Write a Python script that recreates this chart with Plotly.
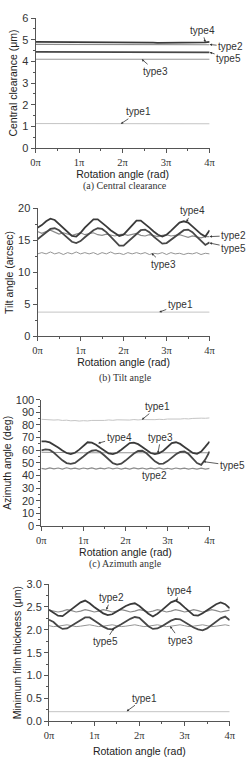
import plotly.graph_objects as go

# ---------------- data ----------------
X = [0.0, 0.1, 0.2, 0.3, 0.4, 0.5, 0.6, 0.7, 0.8, 0.9,
     1.0, 1.1, 1.2, 1.3, 1.4, 1.5, 1.6, 1.7, 1.8, 1.9,
     2.0, 2.1, 2.2, 2.3, 2.4, 2.5, 2.6, 2.7, 2.8, 2.9,
     3.0, 3.1, 3.2, 3.3, 3.4, 3.5, 3.6, 3.7, 3.8, 3.9, 4.0]
X_TICKS = [0, 1, 2, 3, 4]
X_TICK_TEXT = ["0π", "1π", "2π", "3π", "4π"]
SERIES = ["type1", "type2", "type3", "type4", "type5"]

# (a) Central clearance (um)
A_type1 = [1.13, 1.13, 1.13, 1.13, 1.12, 1.12, 1.12, 1.12, 1.12, 1.12,
           1.12, 1.12, 1.12, 1.12, 1.12, 1.12, 1.12, 1.12, 1.12, 1.12,
           1.12, 1.12, 1.12, 1.12, 1.12, 1.12, 1.12, 1.12, 1.12, 1.12,
           1.12, 1.12, 1.12, 1.12, 1.12, 1.12, 1.12, 1.12, 1.12, 1.12, 1.12]
A_type2 = [4.79, 4.79, 4.79, 4.79, 4.78, 4.78, 4.78, 4.78, 4.78, 4.78,
           4.78, 4.78, 4.78, 4.78, 4.78, 4.77, 4.77, 4.77, 4.77, 4.77,
           4.77, 4.77, 4.77, 4.77, 4.77, 4.77, 4.77, 4.77, 4.77, 4.77,
           4.77, 4.77, 4.77, 4.77, 4.77, 4.77, 4.77, 4.77, 4.77, 4.77, 4.77]
A_type3 = [4.10, 4.10, 4.10, 4.10, 4.10, 4.10, 4.10, 4.10, 4.10, 4.10,
           4.10, 4.10, 4.10, 4.10, 4.10, 4.10, 4.10, 4.10, 4.10, 4.10,
           4.10, 4.10, 4.10, 4.10, 4.10, 4.10, 4.10, 4.10, 4.10, 4.10,
           4.10, 4.10, 4.10, 4.10, 4.10, 4.10, 4.10, 4.10, 4.10, 4.10, 4.10]
A_type4 = [4.90, 4.90, 4.90, 4.89, 4.89, 4.89, 4.89, 4.89, 4.88, 4.88,
           4.88, 4.88, 4.88, 4.88, 4.88, 4.87, 4.87, 4.87, 4.87, 4.87,
           4.87, 4.87, 4.87, 4.87, 4.87, 4.87, 4.87, 4.87, 4.86, 4.86,
           4.86, 4.86, 4.86, 4.86, 4.86, 4.86, 4.86, 4.86, 4.87, 4.88, 4.90]
A_type5 = [4.44, 4.44, 4.44, 4.43, 4.43, 4.43, 4.43, 4.42, 4.42, 4.42,
           4.42, 4.41, 4.41, 4.41, 4.41, 4.41, 4.41, 4.41, 4.41, 4.41,
           4.41, 4.41, 4.41, 4.41, 4.41, 4.41, 4.41, 4.41, 4.41, 4.41,
           4.41, 4.42, 4.42, 4.42, 4.42, 4.42, 4.42, 4.42, 4.42, 4.42, 4.42]

# (b) Tilt angle (arcsec)
B_type1 = [3.8, 3.8, 3.8, 3.8, 3.8, 3.8, 3.8, 3.8, 3.8, 3.8,
           3.8, 3.8, 3.8, 3.8, 3.8, 3.8, 3.8, 3.8, 3.8, 3.8,
           3.8, 3.8, 3.8, 3.8, 3.8, 3.8, 3.8, 3.8, 3.8, 3.8,
           3.8, 3.8, 3.8, 3.8, 3.8, 3.8, 3.8, 3.8, 3.8, 3.8, 3.8]
B_type2 = [16.4, 16.1, 16.4, 16.6, 16.3, 16.0, 16.2, 16.0, 15.8, 16.0,
           16.2, 15.9, 16.1, 16.2, 15.9, 15.8, 16.0, 15.8, 15.7, 15.9,
           16.0, 15.8, 15.9, 16.1, 15.8, 15.7, 15.9, 15.7, 15.6, 15.8,
           15.9, 15.7, 15.8, 15.9, 15.7, 15.5, 15.7, 15.5, 15.4, 15.6, 15.6]
B_type3 = [12.9, 13.1, 12.9, 13.2, 12.9, 13.1, 12.8, 13.1, 12.9, 13.2,
           12.9, 13.1, 12.9, 13.1, 12.8, 13.1, 12.9, 13.2, 12.9, 13.0,
           12.8, 13.1, 12.9, 13.1, 12.9, 13.1, 12.8, 13.0, 12.9, 13.1,
           12.8, 13.1, 12.9, 13.0, 12.8, 13.0, 12.9, 13.1, 12.8, 13.0, 12.9]
B_type4 = [17.0, 17.4, 18.0, 18.4, 18.2, 17.6, 17.0, 16.3, 15.7, 15.6,
           16.2, 17.0, 17.7, 18.3, 18.3, 17.8, 17.2, 16.6, 16.1, 15.7,
           15.9, 16.6, 17.4, 18.1, 18.1, 17.6, 17.0, 16.4, 15.9, 15.6,
           15.9, 16.5, 17.2, 17.8, 18.0, 17.8, 17.2, 16.6, 16.0, 15.6, 16.6]
B_type5 = [15.2, 15.7, 16.3, 16.8, 16.9, 16.6, 16.0, 15.4, 14.8, 14.6,
           14.9, 15.5, 16.1, 16.6, 16.9, 16.8, 16.3, 15.6, 14.9, 14.2,
           14.2, 14.8, 15.5, 16.1, 16.6, 16.7, 16.3, 15.6, 15.0, 14.5,
           14.6, 15.1, 15.7, 16.2, 16.6, 16.7, 16.3, 15.6, 14.9, 14.3, 14.7]

# (c) Azimuth angle (deg)
C_type1 = [84.5, 84.2, 84.4, 83.9, 84.1, 83.6, 83.8, 83.3, 83.5, 83.1,
           83.4, 83.2, 83.6, 83.4, 83.8, 83.6, 84.0, 83.7, 84.1, 83.9,
           84.2, 83.9, 84.3, 84.0, 84.3, 84.1, 84.4, 84.2, 84.5, 84.3,
           84.7, 84.5, 84.9, 84.7, 85.0, 84.8, 85.2, 85.0, 85.4, 85.3, 85.6]
C_type2 = [45.6, 45.0, 46.0, 45.2, 45.9, 45.1, 46.1, 45.3, 45.8, 45.0,
           45.9, 45.2, 46.0, 45.1, 45.8, 45.3, 46.1, 45.2, 45.9, 45.0,
           45.8, 45.1, 46.0, 45.3, 45.9, 45.0, 45.8, 45.2, 46.0, 45.1,
           45.7, 45.0, 45.9, 45.2, 45.8, 45.0, 45.7, 45.1, 45.8, 45.0, 45.6]
C_type3 = [58.4, 58.3, 58.2, 58.2, 58.1, 58.1, 58.0, 58.0, 58.0, 58.0,
           58.0, 58.0, 58.0, 58.0, 58.0, 58.0, 58.0, 58.0, 58.0, 58.0,
           58.0, 58.0, 58.0, 58.0, 58.0, 58.0, 58.0, 58.0, 58.0, 58.0,
           58.0, 58.0, 58.0, 58.0, 58.0, 58.0, 58.0, 58.0, 58.0, 58.0, 58.0]
C_type4 = [67.0, 67.0, 66.2, 64.5, 62.2, 59.8, 57.8, 57.0, 58.0, 60.5,
           63.8, 66.3, 66.0, 64.4, 62.0, 59.5, 57.5, 57.0, 58.0, 60.4,
           63.2, 65.6, 66.0, 64.8, 62.6, 60.0, 57.8, 57.0, 57.6, 59.6,
           63.0, 65.6, 66.3, 65.0, 62.6, 60.0, 57.8, 57.2, 59.0, 62.8, 66.8]
C_type5 = [59.8, 60.6, 60.2, 58.0, 55.0, 52.0, 49.8, 49.2, 50.0, 52.2,
           55.0, 57.8, 59.6, 60.0, 58.6, 55.8, 52.6, 49.8, 48.6, 49.4,
           51.8, 54.6, 57.4, 59.4, 59.6, 57.6, 54.4, 51.2, 49.2, 49.4,
           51.4, 54.2, 56.8, 58.6, 59.0, 57.0, 53.4, 49.8, 48.4, 52.8, 59.0]

# (d) Minimum film thickness (um)
D_type1 = [0.21, 0.21, 0.21, 0.21, 0.21, 0.21, 0.21, 0.21, 0.21, 0.21,
           0.21, 0.21, 0.21, 0.21, 0.21, 0.21, 0.21, 0.21, 0.21, 0.21,
           0.21, 0.21, 0.21, 0.21, 0.21, 0.21, 0.21, 0.21, 0.21, 0.21,
           0.21, 0.21, 0.21, 0.21, 0.21, 0.21, 0.21, 0.21, 0.21, 0.21, 0.21]
D_type2 = [2.43, 2.41, 2.39, 2.41, 2.44, 2.42, 2.39, 2.41, 2.44, 2.42,
           2.39, 2.41, 2.44, 2.42, 2.39, 2.41, 2.44, 2.42, 2.39, 2.41,
           2.44, 2.42, 2.39, 2.41, 2.44, 2.42, 2.39, 2.41, 2.44, 2.42,
           2.39, 2.41, 2.44, 2.42, 2.39, 2.41, 2.44, 2.42, 2.39, 2.41, 2.43]
D_type3 = [2.09, 2.07, 2.08, 2.10, 2.11, 2.09, 2.07, 2.08, 2.10, 2.11,
           2.09, 2.07, 2.08, 2.10, 2.11, 2.09, 2.07, 2.08, 2.10, 2.11,
           2.09, 2.07, 2.08, 2.10, 2.11, 2.09, 2.07, 2.08, 2.10, 2.11,
           2.09, 2.07, 2.08, 2.10, 2.11, 2.09, 2.07, 2.08, 2.10, 2.11, 2.09]
D_type4 = [2.44, 2.38, 2.31, 2.30, 2.37, 2.45, 2.53, 2.60, 2.64, 2.58,
           2.50, 2.42, 2.36, 2.32, 2.34, 2.40, 2.46, 2.52, 2.56, 2.58,
           2.52, 2.43, 2.35, 2.29, 2.35, 2.43, 2.52, 2.60, 2.64, 2.58,
           2.49, 2.40, 2.32, 2.31, 2.36, 2.43, 2.50, 2.56, 2.60, 2.56, 2.47]
D_type5 = [2.22, 2.17, 2.08, 2.02, 2.03, 2.09, 2.16, 2.22, 2.27, 2.27,
           2.21, 2.14, 2.07, 2.02, 2.01, 2.06, 2.12, 2.18, 2.24, 2.28,
           2.26, 2.17, 2.08, 2.02, 2.03, 2.08, 2.14, 2.20, 2.24, 2.23,
           2.17, 2.11, 2.05, 2.01, 1.99, 2.03, 2.10, 2.18, 2.25, 2.29, 2.21]

PANELS = [
    dict(series=[A_type1, A_type2, A_type3, A_type4, A_type5],
         ytitle="Central clearance (μm)", yrange=[0, 6], dtick=1, minor=0.5,
         fmt="d", caption="(a) Central clearance"),
    dict(series=[B_type1, B_type2, B_type3, B_type4, B_type5],
         ytitle="Tilt angle (arcsec)", yrange=[0, 20], dtick=5, minor=2.5,
         fmt="d", caption="(b) Tilt angle"),
    dict(series=[C_type1, C_type2, C_type3, C_type4, C_type5],
         ytitle="Azimuth angle (deg)", yrange=[0, 100], dtick=10, minor=5,
         fmt="d", caption="(c) Azimuth angle"),
    dict(series=[D_type1, D_type2, D_type3, D_type4, D_type5],
         ytitle="Minimum film thickness (μm)", yrange=[0, 3.0], dtick=0.5, minor=0.25,
         fmt=".1f", caption=None),
]

# label annotations: (series, head_x, head_y, ax, ay)
LABELS = [
    [("type4", 3.9, 4.88, -3, -12), ("type2", 4.0, 4.78, 21, 2),
     ("type5", 4.0, 4.42, 19, 6), ("type3", 2.44, 4.10, 14, 12),
     ("type1", 1.96, 1.12, 18, -12)],
    [("type4", 3.46, 17.9, 6, -11), ("type2", 4.0, 15.6, 24, -1),
     ("type5", 4.0, 14.6, 24, 5), ("type3", 2.65, 13.0, 12, 11),
     ("type1", 2.83, 3.8, 21, -8)],
    [("type1", 2.39, 84.2, 16, -13), ("type4", 1.35, 65.5, 21, -6),
     ("type3", 2.77, 57.5, 3, -16), ("type5", 3.85, 51.0, 29, 4),
     ("type2", 2.36, 45.3, 14, 7)],
    [("type2", 1.27, 2.44, 5, -12), ("type4", 2.82, 2.62, 3, -11),
     ("type5", 1.44, 2.04, -9, 14), ("type3", 2.68, 2.08, 10, 14),
     ("type1", 1.72, 0.22, 18, -13)],
]

# ---------------- layout / style ----------------
W, H = 251, 764
SANS = "Liberation Sans, Arial, sans-serif"
SERIF = "Liberation Serif, Times New Roman, serif"
X_DOM = [[32, 214], [34, 214], [38, 214], [46, 235]]
Y_DOM = [[12.3, 144.3], [205.7, 335.7], [400, 528.3], [587.3, 726.7]]
XT_STANDOFF = [1, 3, 1, 7]
CAPTION_Y = [183, 378, 567]
STYLE = {
    "type1": dict(color="#c4c4c4", width=1.0),
    "type2": dict(color="#8c8c8c", width=1.2),
    "type3": dict(color="#959595", width=1.0),
    "type4": dict(color="#3a3a3a", width=1.8),
    "type5": dict(color="#474747", width=1.8),
}

fig = go.Figure()
annotations = []
for i, p in enumerate(PANELS):
    n = "" if i == 0 else str(i + 1)
    xa, ya = "x" + n, "y" + n
    for name, vals in zip(SERIES, p["series"]):
        fig.add_trace(go.Scatter(x=X, y=vals, mode="lines", name=name,
                                 line=STYLE[name], xaxis=xa, yaxis=ya,
                                 showlegend=False, hoverinfo="skip"))
    x0, x1 = X_DOM[i]
    yt, yb = Y_DOM[i]
    common = dict(showline=True, linecolor="#555", linewidth=1, showgrid=False,
                  zeroline=False, ticks="outside", ticklen=4, tickcolor="#555",
                  tickwidth=1)
    fig.layout["xaxis" + n] = dict(
        domain=[x0 / W, x1 / W], anchor=ya, range=[0, 4],
        tickvals=X_TICKS, ticktext=X_TICK_TEXT,
        tickfont=dict(family=SERIF, size=10.5, color="#333"),
        minor=dict(ticks="outside", ticklen=2, dtick=0.5, tickcolor="#555"),
        title=dict(text="Rotation angle (rad)", standoff=XT_STANDOFF[i],
                   font=dict(family=SANS, size=10.5, color="#222")),
        **common)
    fig.layout["yaxis" + n] = dict(
        domain=[1 - yb / H, 1 - yt / H], anchor=xa, range=p["yrange"],
        dtick=p["dtick"], tick0=0, tickformat=p["fmt"],
        tickfont=dict(family=SANS, size=11, color="#333"),
        minor=dict(ticks="outside", ticklen=2, dtick=p["minor"], tickcolor="#555"),
        title=dict(text=p["ytitle"], standoff=2,
                   font=dict(family=SANS, size=10.5, color="#222")),
        **common)
    for (name, hx, hy, ax, ay) in LABELS[i]:
        annotations.append(dict(
            x=hx, y=hy, xref=xa, yref=ya, text=name, showarrow=True,
            ax=ax, ay=ay, arrowhead=2, arrowsize=0.6, arrowwidth=0.8,
            arrowcolor="#333", font=dict(family=SANS, size=10, color="#333")))
    if p["caption"]:
        annotations.append(dict(
            x=0.5, y=1 - CAPTION_Y[i] / H, xref="paper", yref="paper",
            text=p["caption"], showarrow=False, xanchor="center", yanchor="middle",
            font=dict(family=SERIF, size=10, color="#333")))

fig.update_layout(width=W, height=H, margin=dict(l=0, r=0, t=0, b=0),
                  paper_bgcolor="white", plot_bgcolor="white",
                  annotations=annotations, showlegend=False)

fig.write_html("out.html")
